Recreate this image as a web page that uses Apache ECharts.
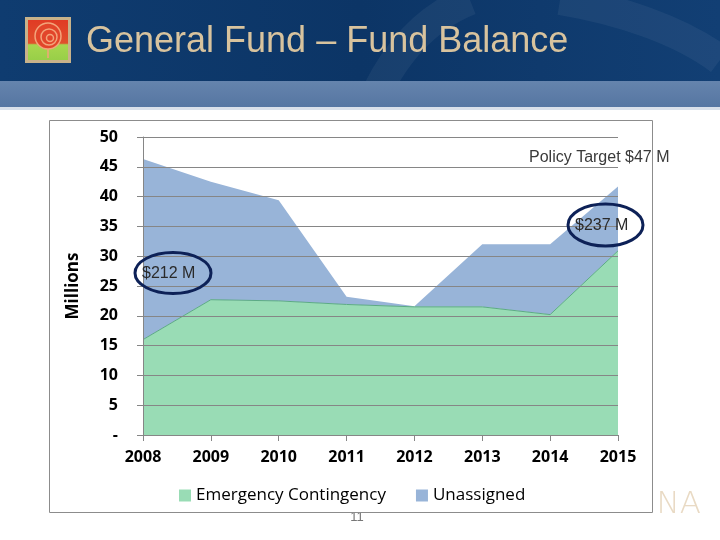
<!DOCTYPE html>
<html>
<head>
<meta charset="utf-8">
<script src="https://cdn.jsdelivr.net/npm/echarts@6/dist/echarts.min.js"></script>
<style>html,body{margin:0;padding:0;background:#fff;}#c{width:720px;height:540px;}</style>
</head>
<body>
<div id="c"></div>
<script>
const years = ['2008', '2009', '2010', '2011', '2012', '2013', '2014', '2015'];
const emergency = [16.0, 22.7, 22.5, 21.9, 21.5, 21.5, 20.2, 30.9];
const unassigned = [30.3, 19.8, 16.9, 1.3, 0.1, 10.5, 11.8, 10.8];
const seriesNames = ['Emergency Contingency', 'Unassigned'];
const titleText = 'General Fund \u2013 Fund Balance';
const notes = ['Policy Target $47 M', '$237 M', '$212 M'];

const chart = echarts.init(document.getElementById('c'));

const watermark = [];
'PASADENA'.split('').forEach(function (ch, i) {
  watermark.push({
    type: 'text', x: 516 + i * 23.4, y: 505, z: 0,
    style: { text: ch, font: '200 31px "DejaVu Sans"', fill: '#e9dac4', verticalAlign: 'middle', align: 'left' }
  });
});

const graphics = [
  // header
  { type: 'rect', shape: { x: 0, y: 0, width: 720, height: 81 }, z: 0,
    style: { fill: new echarts.graphic.LinearGradient(0, 0, 1, 0, [
      { offset: 0, color: '#0f3c70' }, { offset: 0.5, color: '#0c3566' }, { offset: 1, color: '#123f74' }]) } },
  { type: 'bezierCurve', shape: { x1: 370, y1: 107, x2: 470, y2: 0, cpx1: 390, cpy1: 60, cpx2: 420, cpy2: 20 }, z: 0, silent: true,
    style: { fill: 'none', stroke: 'rgba(255,255,255,0.05)', lineWidth: 30 } },
  { type: 'bezierCurve', shape: { x1: 560, y1: 0, x2: 720, y2: 60, cpx1: 620, cpy1: 10, cpx2: 680, cpy2: 30 }, z: 0, silent: true,
    style: { fill: 'none', stroke: 'rgba(255,255,255,0.05)', lineWidth: 30 } },
  { type: 'rect', shape: { x: 0, y: 81, width: 720, height: 26 }, z: 0,
    style: { fill: new echarts.graphic.LinearGradient(0, 0, 0, 1, [
      { offset: 0, color: '#6584ad' }, { offset: 1, color: '#5676a2' }]) } },
  { type: 'rect', shape: { x: 0, y: 107, width: 720, height: 3 }, z: 0,
    style: { fill: '#d9e0ea' } },
  // logo
  { type: 'rect', shape: { x: 25, y: 17, width: 46, height: 46 }, z: 1,
    style: { fill: '#c8b28a' } },
  { type: 'rect', shape: { x: 28, y: 20, width: 40, height: 40 }, z: 1,
    style: { fill: new echarts.graphic.LinearGradient(0, 0, 0, 1, [
      { offset: 0, color: '#e03b24' }, { offset: 0.58, color: '#e0502c' },
      { offset: 0.62, color: '#a8d64e' }, { offset: 1, color: '#98cf48' }]) } },
  { type: 'circle', shape: { cx: 48, cy: 36, r: 13 }, z: 2,
    style: { fill: '#e2452a', stroke: '#f3a47a', lineWidth: 1.5 } },
  { type: 'circle', shape: { cx: 49, cy: 37, r: 8 }, z: 2,
    style: { fill: 'none', stroke: '#f3a47a', lineWidth: 1.5 } },
  { type: 'circle', shape: { cx: 50, cy: 38, r: 3.5 }, z: 2,
    style: { fill: 'none', stroke: '#f3a47a', lineWidth: 1.5 } },
  { type: 'line', shape: { x1: 48, y1: 49, x2: 48, y2: 58 }, z: 2,
    style: { stroke: '#f3a47a', lineWidth: 1.5 } },
  // title
  { type: 'text', x: 86, y: 42, z: 3,
    style: { text: titleText, font: '36px "Liberation Sans", Arial, sans-serif', fill: '#d8c39e', verticalAlign: 'middle' } }
].concat(watermark).concat([
  // page number
  { type: 'text', x: 357, y: 517, z: 0,
    style: { text: '11', font: '13px "Liberation Sans"', fill: '#777', align: 'center', verticalAlign: 'middle' } },
  // chart frame
  { type: 'rect', shape: { x: 49.5, y: 120.5, width: 603, height: 392 }, z: 1,
    style: { fill: '#ffffff', stroke: '#8c8c8c', lineWidth: 1 } },
  // annotations
  { type: 'text', x: 529, y: 158, z: 100,
    style: { text: notes[0], font: '16px "Liberation Sans", Arial, sans-serif', fill: '#3a3a3a', verticalAlign: 'middle' } },
  { type: 'text', x: 575, y: 226, z: 100,
    style: { text: notes[1], font: '16px "Liberation Sans", Arial, sans-serif', fill: '#2a2a2a', verticalAlign: 'middle' } },
  { type: 'text', x: 142, y: 274, z: 100,
    style: { text: notes[2], font: '16px "Liberation Sans", Arial, sans-serif', fill: '#2a2a2a', verticalAlign: 'middle' } },
  { type: 'ellipse', shape: { cx: 605.5, cy: 225, rx: 37.5, ry: 21 }, z: 100,
    style: { fill: 'none', stroke: '#0d2157', lineWidth: 3 } },
  { type: 'ellipse', shape: { cx: 173, cy: 273, rx: 38, ry: 20.5 }, z: 100,
    style: { fill: 'none', stroke: '#0d2157', lineWidth: 3 } }
]);

chart.setOption({
  animation: false,
  backgroundColor: '#ffffff',
  graphic: { elements: graphics },
  legend: {
    data: seriesNames, z: 10,
    left: 174, top: 482,
    icon: 'rect', itemWidth: 12, itemHeight: 12, itemGap: 30,
    textStyle: { fontFamily: '"Open Sans", sans-serif', fontSize: 17, color: '#000' }
  },
  grid: { left: 143, right: 102, top: 137, bottom: 105 },
  xAxis: {
    type: 'category', data: years, boundaryGap: false, z: 5,
    axisLine: { lineStyle: { color: '#868686' } },
    axisTick: { show: true, length: 6, lineStyle: { color: '#868686' } },
    axisLabel: { fontFamily: '"Open Sans", sans-serif', fontWeight: 'bold', fontSize: 16, color: '#000', margin: 14 },
    splitLine: { show: false }
  },
  yAxis: {
    type: 'value', min: 0, max: 50, interval: 5, z: 5,
    name: 'Millions', nameLocation: 'middle', nameGap: 61, nameRotate: 90,
    nameTextStyle: { fontFamily: '"Open Sans", sans-serif', fontWeight: 'bold', fontSize: 17, color: '#000' },
    axisLine: { show: true, lineStyle: { color: '#868686' } },
    axisTick: { show: true, length: 6, lineStyle: { color: '#868686' } },
    axisLabel: { fontFamily: '"Open Sans", sans-serif', fontWeight: 'bold', fontSize: 16, color: '#000', margin: 25,
      formatter: function (v) { return v === 0 ? '-' : String(v); } },
    splitLine: { show: true, lineStyle: { color: '#868686', width: 1 } }
  },
  series: [
    { name: seriesNames[0], type: 'line', stack: 'fb', data: emergency, symbol: 'none', z: 3,
      itemStyle: { color: '#99dcb5' },
      lineStyle: { color: '#5caa85', width: 1 },
      areaStyle: { color: '#99dcb5', opacity: 1 } },
    { name: seriesNames[1], type: 'line', stack: 'fb', data: unassigned, symbol: 'none', z: 2,
      itemStyle: { color: '#98b4d8' },
      lineStyle: { width: 0 },
      areaStyle: { color: '#98b4d8', opacity: 1 } }
  ]
});
</script>
</body>
</html>
